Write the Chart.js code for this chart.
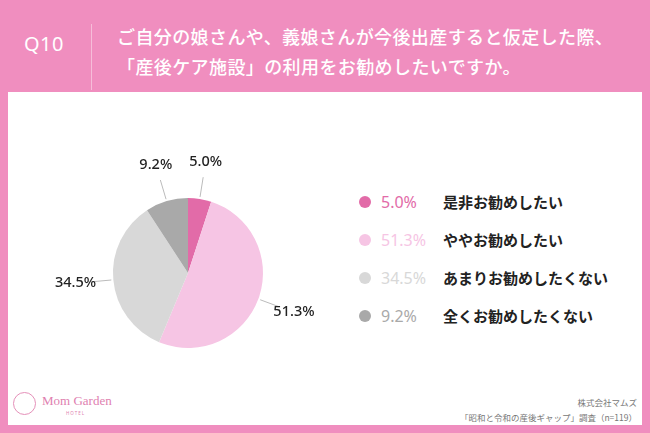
<!DOCTYPE html>
<html lang="ja">
<head>
<meta charset="utf-8">
<script src="https://cdn.jsdelivr.net/npm/chart.js@4/dist/chart.umd.min.js"></script>
<style>
  html,body{margin:0;padding:0;}
  body{width:650px;height:433px;background:#F08EBF;position:relative;overflow:hidden;
       font-family:"Noto Sans CJK JP","Noto Sans",sans-serif;}
  #panel{position:absolute;left:8px;top:92px;width:634px;height:333px;background:#fff;}
  #q{position:absolute;left:24px;top:30px;color:#fff;font-size:20px;font-family:"Noto Sans","Noto Sans CJK JP",sans-serif;letter-spacing:0.5px;}
  #divider{position:absolute;left:91px;top:24px;width:1px;height:66px;background:#F6BDD9;}
  #title{position:absolute;left:117px;top:21px;color:#fff;font-size:18px;font-weight:500;line-height:30px;white-space:nowrap;letter-spacing:0.4px;}
  #legend{position:absolute;left:356px;top:190px;}
  .li{position:relative;height:38px;}
  .dot{position:absolute;left:3px;top:6px;width:12px;height:12px;border-radius:50%;}
  .pct{position:absolute;left:25px;top:0;font-size:16px;line-height:24px;font-family:"Noto Sans","Noto Sans CJK JP",sans-serif;}
  .lab{position:absolute;left:87px;top:0;font-size:15px;line-height:24px;font-weight:700;color:#222;white-space:nowrap;}
  #credit{position:absolute;right:13px;top:395px;text-align:right;color:#777;font-size:8.5px;line-height:15px;}
  #logo{position:absolute;left:13px;top:392px;}
  #logo .ring{position:absolute;left:0;top:0;width:21px;height:21px;border:1.3px solid #E590B9;border-radius:50%;}
  #logo .name{position:absolute;left:29px;top:1px;font-family:"Liberation Serif","DejaVu Serif",serif;color:#E07FB0;font-size:13px;white-space:nowrap;}
  #logo .hotel{position:absolute;left:53px;top:18px;font-size:4.5px;color:#E07FB0;letter-spacing:1px;font-family:"Noto Sans",sans-serif;}
  #wrap{position:absolute;left:0;top:0;width:650px;height:433px;}
</style>
</head>
<body>
<div id="panel"></div>
<div id="q">Q10</div>
<div id="divider"></div>
<div id="title">ご自分の娘さんや、義娘さんが今後出産すると仮定した際、<br>「産後ケア施設」の利用をお勧めしたいですか。</div>
<div id="legend"></div>
<div id="logo"><div class="ring"></div><div class="name">Mom Garden</div><div class="hotel">HOTEL</div></div>
<div id="credit">株式会社マムズ<br>「昭和と令和の産後ギャップ」調査（n=119）</div>
<div id="wrap"><canvas id="c" width="650" height="433"></canvas></div>
<script>
const categories = ["是非お勧めしたい", "ややお勧めしたい", "あまりお勧めしたくない", "全くお勧めしたくない"];
const values = [5.0, 51.3, 34.5, 9.2];
const colors = ["#E26BA8", "#F6C5E4", "#D8D8D8", "#A9A9A9"];

// legend
const lg = document.getElementById('legend');
categories.forEach((c, i) => {
  const d = document.createElement('div'); d.className = 'li';
  d.innerHTML = '<div class="dot" style="background:' + colors[i] + '"></div>' +
    '<div class="pct" style="color:' + colors[i] + '">' + values[i].toFixed(1) + '%</div>' +
    '<div class="lab">' + c + '</div>';
  lg.appendChild(d);
});

const outLabels = {
  id: 'outLabels',
  afterDatasetsDraw(chart) {
    const ctx = chart.ctx;
    const meta = chart.getDatasetMeta(0);
    ctx.save();
    meta.data.forEach((arc, i) => {
      const mid = (arc.startAngle + arc.endAngle) / 2;
      const r = arc.outerRadius;
      const cx = arc.x, cy = arc.y;
      const cos = Math.cos(mid), sin = Math.sin(mid);
      ctx.strokeStyle = '#BBBBBB';
      ctx.lineWidth = 1;
      ctx.beginPath();
      ctx.moveTo(cx + cos * (r + 2), cy + sin * (r + 2));
      ctx.lineTo(cx + cos * (r + 22), cy + sin * (r + 22));
      ctx.stroke();
      ctx.fillStyle = '#222';
      ctx.font = '500 14.5px "Noto Sans","Noto Sans CJK JP",sans-serif';
      ctx.textAlign = 'center';
      ctx.textBaseline = 'middle';
      const lr = r + 38;
      ctx.fillText(values[i].toFixed(1) + '%', cx + cos * lr, cy + sin * lr);
    });
    ctx.restore();
  }
};

new Chart(document.getElementById('c'), {
  type: 'pie',
  data: {
    labels: categories,
    datasets: [{ data: values, backgroundColor: colors, borderWidth: 0 }]
  },
  options: {
    responsive: false,
    animation: false,
    layout: { padding: { left: 113, right: 387, top: 198, bottom: 85 } },
    plugins: { legend: { display: false }, tooltip: { enabled: false } }
  },
  plugins: [outLabels]
});
</script>
</body>
</html>
